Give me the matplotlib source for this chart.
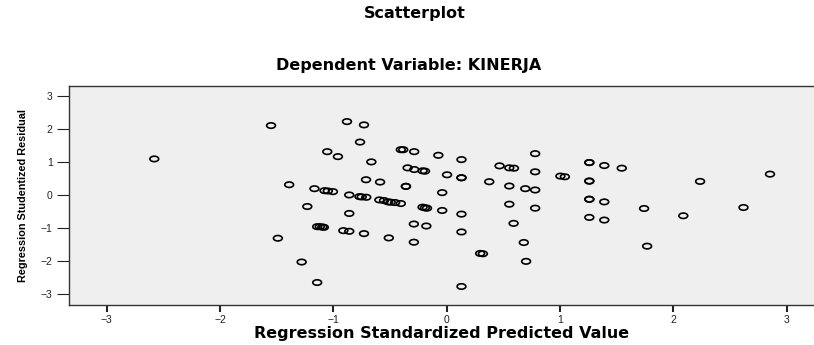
import matplotlib
import numpy as np

matplotlib.use("Agg")
import matplotlib.pyplot as plt
from matplotlib.path import Path
from matplotlib.transforms import Affine2D

# standardized predicted values (x) and studentized residuals (y)
pred_values = [
    -2.58, -1.55, -1.39, -1.23, -1.49, -1.28,
    -0.88, -0.73, -0.765, -1.054, -0.96, -0.405, -0.384, -0.287, -0.074,
    0.13, 0.78, -0.665, -0.345, -0.287, -0.213, -0.192, 0.003, 0.13, 0.13,
    0.466, 0.552, 0.593, 0.78, -0.712, -0.588, -0.36, -0.36, 0.375, 0.552,
    0.693, 0.78, -1.167, -1.078, -1.049, -1.004, -0.86, -0.77, -0.75, -0.71,
    -0.04, -0.594, -0.553, -0.517, -0.494, -0.455, -0.405,
    -0.86, -0.213, -0.192, -0.174, -0.04, 0.13, 0.552, 0.78,
    -1.143, -1.12, -1.098, -1.084, -0.912, -0.86, -0.73, -0.29, -0.18, 0.13,
    0.59, -0.511, -0.29, 0.68, 0.295, 0.319, 0.70, -1.143, 0.13,
    1.258, 1.258, 1.39, 1.544, 1.003, 1.042, 1.258, 1.258, 2.235, 2.852,
    1.258, 1.258, 1.39, 1.741, 2.618, 1.258, 1.39, 2.087, 1.768,
]
resid_values = [
    1.09, 2.10, 0.31, -0.35, -1.31, -2.03,
    2.22, 2.12, 1.60, 1.31, 1.16, 1.37, 1.37, 1.31, 1.20,
    1.07, 1.25, 1.00, 0.82, 0.77, 0.73, 0.72, 0.61, 0.52, 0.52,
    0.88, 0.82, 0.81, 0.70, 0.46, 0.39, 0.26, 0.26, 0.40, 0.27,
    0.19, 0.15, 0.19, 0.13, 0.12, 0.10, 0.00, -0.05, -0.06, -0.07,
    0.07, -0.15, -0.17, -0.21, -0.22, -0.23, -0.26,
    -0.56, -0.37, -0.39, -0.40, -0.47, -0.58, -0.28, -0.40,
    -0.96, -0.96, -0.97, -0.98, -1.08, -1.10, -1.17, -0.88, -0.94, -1.12,
    -0.86, -1.30, -1.43, -1.44, -1.77, -1.78, -2.01, -2.65, -2.77,
    0.98, 0.98, 0.89, 0.81, 0.57, 0.55, 0.42, 0.42, 0.41, 0.63,
    -0.13, -0.13, -0.21, -0.41, -0.38, -0.68, -0.76, -0.63, -1.55,
]

ticks = [-3, -2, -1, 0, 1, 2, 3]

# flattened open ellipse used as marker
ellipse = Path.unit_circle().transformed(Affine2D().scale(1.0, 0.62))

plt.rcParams["font.family"] = ["Liberation Sans", "DejaVu Sans"]

fig = plt.figure(figsize=(8.14, 3.45), dpi=100)
ax = fig.add_axes([0.0851, 0.116, 0.9149, 0.635])
ax.set_facecolor("#efefef")

ax.scatter(pred_values, resid_values, marker=ellipse, s=40,
           facecolors="none", edgecolors="black", linewidths=1.2)

ax.set_xlim(-3.33, 3.24)
ax.set_ylim(-3.33, 3.3)
ax.set_xticks(ticks)
ax.set_yticks(ticks)
ax.tick_params(axis="x", length=5, width=1.5, labelsize=7.5, pad=2,
               colors="#222222")
ax.tick_params(axis="y", length=9, width=0.8, labelsize=7.5, pad=3,
               colors="#222222")

for side in ["top", "left", "bottom"]:
    ax.spines[side].set_color("#333333")
    ax.spines[side].set_linewidth(1.0)
ax.spines["right"].set_visible(False)

# wide bold face for the titles and the x axis title
wide = "DejaVu Sans"
ax.set_xlabel("Regression Standardized Predicted Value", fontsize=11.5,
              fontweight="bold", labelpad=1, family=wide)
ax.set_ylabel("Regression Studentized Residual", fontsize=7.8,
              fontweight="bold", labelpad=9)

fig.text(0.509, 0.962, "Scatterplot", ha="center", va="center",
         fontsize=11.5, fontweight="bold", family=wide)
fig.text(0.502, 0.809, "Dependent Variable: KINERJA", ha="center",
         va="center", fontsize=11.5, fontweight="bold", family=wide)

fig.savefig("out.png", dpi=100)
